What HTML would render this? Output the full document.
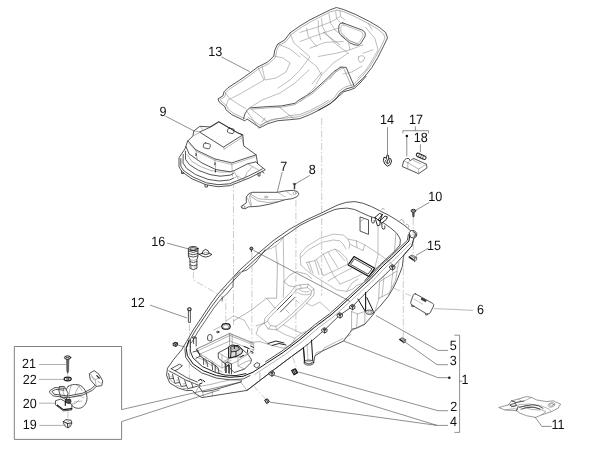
<!DOCTYPE html>
<html><head><meta charset="utf-8">
<style>
html,body{margin:0;padding:0;background:#fff;}
body{width:602px;height:454px;overflow:hidden;}
svg{display:block;}
text{font-family:"Liberation Sans",sans-serif;font-size:13.4px;fill:#111;text-rendering:geometricPrecision;}
.o{fill:none;stroke:#2a2a2a;stroke-width:.8;stroke-linejoin:round;stroke-linecap:round;}
.w{fill:#fff;stroke:#2a2a2a;stroke-width:.8;stroke-linejoin:round;stroke-linecap:round;}
.k{fill:none;stroke:#111;stroke-width:1.5;stroke-linejoin:round;stroke-linecap:round;}
.d{fill:none;stroke:#777;stroke-width:.55;stroke-linejoin:round;stroke-linecap:round;}
.l{fill:none;stroke:#888;stroke-width:.55;stroke-linejoin:round;stroke-linecap:round;}
.ld{fill:none;stroke:#444;stroke-width:.6;}
.ax{fill:none;stroke:#999;stroke-width:.5;stroke-dasharray:7 2 1.5 2;}
</style></head><body>
<svg width="602" height="454" viewBox="0 0 602 454">
<rect width="602" height="454" fill="#fff"/>


<!-- PART 13 -->
<g id="p13">
<path class="w" d="M336.8 7.6L343.8 9.6L355.8 14.6L369.7 21.6L379.7 27.6L385.7 32.6L387.5 37.9L383.7 45.8L377.7 57.8L371.7 67.8L363.7 77.7L353.8 86.7L346 89L340 93L336 99L330 103.8L321.6 108.8L309.7 114.7L299.7 118.7L289.7 119.7L277.8 120.7L267.8 123.7L259.8 127.7L246.9 118.9L244.9 120.9L242.9 119.9L231.9 114.7L226 109.8L225 106.8L219 101.8L218 98.8L223 95.8L224 91.8L227.9 87.8L239.9 80L249.9 73L257.8 67L261.8 65L267.8 62L273.8 56L274.8 50L277.8 44L284.7 40L290 32.9L300 25.9L309.9 19.9L319.9 14.9L329.9 10Z"/>
<path class="d" d="M336.8 10.2L343.5 11.6L355 16.6L368.5 23.6L378.2 29.4L383.6 34L385 38L381.5 45.5L375.7 57L369.7 67L362 76.3L352.8 84.8L345 87L338.5 91.5L334.5 97.5L329 102L320.8 106.9L309 112.8L299.3 116.7L289.5 117.7L277.4 118.7L267.2 121.7L260 125.3L248 117.2"/>
<path class="d" d="M244.9 118.7L233 113L227.8 108.6L226.8 105.8L221 101L220.2 99.4L224.8 96.8L225.8 92.8L229 89.4L241 81.6L251 74.6L258.8 68.7L262.8 66.7L269 63.6L275.6 57L276.6 50.6L279.2 45.4L286 41.4L291.4 34.4L301 27.6L310.9 21.6L320.8 16.6L330.6 11.8L336.8 10.2"/>
<!-- floor flap -->
<path class="o" d="M243.6 118.5L244.9 113.9L246.9 110.6L249.6 107.9L268.2 106.6L281.4 105.9L295 103.3L298.3 100.5L311.6 92.5L324.9 80.6L334.2 71.3L340.8 67.3L346.1 67.3L354.1 85.9"/>
<path class="d" d="M250.4 109.2L268.2 107.9L281.4 107.2L295 104.7L299 101.8L312.2 93.8L325.4 82L334.8 72.6L341 68.8L343.5 67.9L351.4 85.9"/>
<path class="d" d="M246.9 111.2L258.9 128.5M252.2 109.9L268.2 122.5M278.8 106.6L293.4 118.5M262 122L265 118"/>
<path class="d" d="M259.6 126.4L265 122.6L271.4 119.5L281.6 118.2L289.6 115.6L299.6 114.6L309.4 110.8L320.6 105L328.6 100.2"/>
<path class="o" d="M318.2 110.2L329.4 104.2L338.8 96.2L344 91.6L349.2 90.2L354.6 88.2L360 83L366 76.4"/>
<!-- window -->
<path class="o" d="M342.8 22.9L361.8 29.9Q366.5 32 365 36.5L360.8 43.5Q359 46 355 45L349.8 42.9L341 35.5Q338.5 33 338.6 29.5L339 25.5Q339.8 22.3 342.8 22.9Z"/>
<path class="l" d="M344 25L360.8 31.4Q364 33 363 36L359.5 42Q358 44 355.5 43.2L350.5 41.2L342.6 34.5Q340.6 32.5 340.7 30L341 26.8Q341.8 24.4 344 25Z"/>
<!-- interior contours -->
<path class="l" d="M339.9 10.8L340.7 16.6L344.9 19.9M335.7 11.6L336.5 18.3L339.9 22.4M329 14.1L330.7 23.3L335.7 30.7L348.2 39.9L349.8 49.8M321.6 18.3L322.4 26.6L326.6 34.1L335.7 44L348.2 53.2M318.3 20.8L318.3 29.9L320.8 39.9M306.6 28.2L308.3 36.5L316.6 46.5"/>
<path class="l" d="M300 32.4L316.6 27.4L331.6 21.6L339.9 16.6M300 41.5L313.3 36.5L324.9 32.4L338.2 28.2M310 48.2L324.9 42.4L343.2 41.5M318.3 56.5L336.5 53.2L349.8 49.8L363.1 44.9M290 33L294 43L302 50L310 57L300 70L290 80L278 88"/>
<path class="d" d="M323.3 32.4L339.9 44.9M349.8 40.7L359.8 44.9"/>
<path class="l" d="M365.6 27.4L374.8 38.2L378.1 49.8L371.4 61.5M363.1 53.2L373.1 49.8M358.5 57Q362 54 365 57.5Q364 62 360 62.5Q357.5 60 358.5 57ZM371.4 61.5L366 70L358 78M368.5 23.6L372 30"/>
<path class="l" d="M300 53.2L316.6 66.4L321.6 75L316 84M321.6 75L333.2 63.1L348.2 53.2M330 79L339.9 66.4L346.5 68.1M312 84L322 72M343 74L352 72L362 66"/>
<path class="l" d="M278 44L290 49L300 57M274 56L283 58L290 63L286 72L276 78L265 80L262 66M257.8 67L262 76L264 80L240 94L228 100L226 106M225 92L229 98L238 104L246 109M309 70L295 83L280 93L262 100L249.6 107.9M300 101.8L316 86"/>
</g>

<!-- PART 9 -->
<g id="p9">
<!-- base flange -->
<path class="w" d="M184.9 148.9L179 157.8L179 166.8L182 171.8L191.9 178.8L205.9 184.7L217.8 186.7L229.8 185.7L239.8 181.8L249.7 177.8L259.7 172.8L265.3 169.8L257.7 163.8L256.1 154.8L243.7 145.9L242.8 134.9L237.8 132.9L218.8 121.6L209.9 126.9L199.9 126.3L193.9 130.9L192.9 135.9L187.9 140.9Z"/>
<path class="o" d="M180.8 158.6L180.8 166.2L183.8 170.8L193 177L206.4 182.8L218 184.7L229.5 183.8L239 180L248.5 176L257.5 171.5L262.4 168.8"/>
<path class="o" d="M183.2 154.4L183 163L186.6 168.4L195.6 174.6L208 179.4L219 181L229.4 180L233.4 178.2"/>
<path class="o" d="M185.4 151.2L185.6 159.4L189.6 164.8L198.6 170.4L210 174.6L220 176.2L230 175.2L233.5 173.4"/>
<path class="d" d="M187.6 155L192 161.6L200.6 166.6L211 170.6L221 172.2L230 171.8"/>
<!-- box body -->
<path class="o" d="M187.9 140.9L195.9 149.9L214.8 158.9L231.8 162.9L256.1 154.8"/>
<path class="o" d="M186 146.6L189 153.8L202 163L216 169.6L230 171.8L233.8 170.8L247.6 163.8L256.1 161.8L257.7 163.8"/>
<path class="d" d="M195.9 149.9L197 158.8M214.8 158.9L215.5 169.2M231.8 162.9L232.4 176M233.8 170.8L239.8 181.8M247.6 163.8L252.6 166.6L247 172.6L243.6 180.2M252.6 166.6L259.6 170.6"/>
<path class="l" d="M189 143.5L196.5 151.5L215 160.5L231.8 164.6L255 156.8M233.4 178.2L238 176L243.6 180.2"/>
<path class="k" style="stroke-width:.9" d="M196 153.6V155.6M215 162.8V164.8M215.4 170V172"/>
<!-- lid -->
<path class="o" d="M199.9 131.9L210.9 126.9L218.8 122L237.8 132.9L242.8 134.9L234.8 139.9L223.8 146.9Z"/>
<path class="d" d="M223.8 146.9L224 149.2L234.8 142.2L242 137.6"/>
<path class="d" d="M242.8 134.9L242 137.6L243.7 145.9M193.9 130.9L199.9 131.9M192.9 135.9L199 133M199.9 126.3L203 129.6"/>
<rect class="o" style="stroke-width:.7" x="227.6" y="128.4" width="6.4" height="4.8" rx="1.4" transform="rotate(14 230.8 130.9)"/>
<rect class="o" style="stroke-width:.7" x="203.4" y="143.4" width="6.8" height="5" rx="1.4" transform="rotate(14 206.9 145.9)"/>
<!-- tabs -->
<path class="o" d="M181.5 171V173.5H183.5V172.5M205 184.5V187H207.5V185.5M258 173V176H260V172.5M262 171.5L264 173"/>
</g>

<!-- PART 7 -->
<g id="p7">
<path class="w" d="M241.4 206.2L246.3 202.9L246.3 196.9L249 193.6L252.3 192.3L277.5 192.3L285.5 190.9L293.5 190.3L297.5 191.6L298.8 194.3L296.8 196.9L292.1 198.7L285.5 199.6L278.9 201.6L269.6 204.2L258.9 206.2L248.3 206.9L245 208.9L242.3 208.2Z"/>
<path class="d" d="M249 193.6L258.9 198.9L269.6 199.6L285.5 199.6M250 196L258 201L268 202.5L278.9 201.6M247.5 198L251 206.5M252.3 192.3L249.5 196.5L251.5 205"/>
<path class="l" d="M277.5 192.3L285.5 197M285.5 190.9L292 195.5"/>
<circle class="d" cx="243.6" cy="206.9" r="1.4"/>
<circle class="d" cx="294.6" cy="193.2" r="1.5"/>
<ellipse class="d" cx="266" cy="197" rx="1.6" ry=".9"/>
<!-- screw 8 -->
<path d="M293.1 183.4H295.9L294.9 185.4V188.6L294.5 189.4L294.1 188.6V185.4Z" fill="#333" stroke="#222" stroke-width=".5"/>
</g>

<!-- MAIN BODY -->
<g id="body">
<!-- silhouette -->
<path class="w" d="M166.6 374.8L167.5 368.2L173.3 359.9L181.6 349.9L186.6 341.6L193.2 330L199.9 320L209.8 305L217.3 294.7L227.3 283.5L240 269.8L256.6 254.8L273.2 240.7L289.8 229.1L306.4 219.9L323.1 212.2L330 208.7L338.3 204.8L346.6 202.3L354.9 201.6L363.2 203.3L371.5 206.6L379.8 210.8L388.1 214.9L396.4 219.9L404.8 225.7L410.6 230.7L415.5 233.2L416.4 235.7L413.9 238.2L411.8 246L403.9 254.9L403.1 260L402.3 266.6L399.8 273.3L396.4 281.6L393.1 288.2L388.1 296.5L379.8 306.5L374.9 311.5L373.6 314L365 324L356.6 328L352 329.2L350 332.5L343.6 341L322.4 351L314.9 356L313.6 362.6Q309 365.4 304.4 362.6L303.6 348L291.5 356.5L274.9 369L260 380.4L247 390.4L201.8 397.6L195 393.4L192.4 390.4L186.6 390.6L178.3 388.1L170 383.1Z"/>

<!-- lower body (right) details -->
<path class="d" d="M379.8 281.6L397.3 270.8L395.6 279.9L389 293.2L379 298.2Z"/>
<path class="d" d="M365.7 292.4V309.8M364.9 311.5V324L356.6 328M357.4 314L356.6 328M351.6 311.5V329M351.6 311.5L357.4 314L364.9 311.5"/>
<path class="k" style="stroke-width:1" d="M357.9 299L365.2 311.2M365.6 292.4L365.6 310.6M366.8 297.6L373 310.4"/>
<ellipse class="o" cx="369.6" cy="312.2" rx="4" ry="2.2"/>
<ellipse class="d" cx="369.6" cy="312.2" rx="2" ry="1.1"/>
<path class="l" d="M399 262L397 270M393 271L391 288M384 277L382 297M374.9 311.5L379 298.2M350 332.5L353 330L364 325"/>
<path class="d" d="M343.6 341L345.5 337.5L351 334.5M322.4 351L324 348L343 338.5M314.9 356L316.5 352.5L322.4 351"/>
<!-- post -->
<path class="k" style="stroke-width:1" d="M303.4 347.4L304.8 362.3M311.5 340.2L312.8 360.7"/>
<path class="l" d="M307 344L308 360"/>
<ellipse class="o" cx="308.9" cy="362.6" rx="4.8" ry="2.5"/>
<ellipse class="d" cx="308.9" cy="362.6" rx="2.6" ry="1.3"/>

<!-- rim: right side bands -->
<path class="o" d="M413.9 238.2L411.8 246L403.9 254.9L394.9 264.9L384.9 274.9L369.9 288.9L357.9 300.9L352.4 306.5L339.9 315L324.4 330L308.1 344.1L291.5 356.5L274.9 369L260 380.4L247 390.4"/>
<path class="k" style="stroke-width:1" d="M409.9 235L408.9 241L401.9 248L392.9 256.9L382.9 265.9L370.7 278.9L364.9 284L349.9 297.9L340 306.9L331 315L316.4 325.8L299.8 339.9L283.2 352.4L266.6 363.2L253 372.2L243.1 376.3L229.8 377.3L216.5 375.6L203.2 370.7L193.2 364L187.4 355.7L186.2 348.2L189 340"/>
<path class="o" d="M408.4 234.4L407.4 240.2L400.6 246.8L391.6 255.6L381.6 264.6L369.4 277.6L363.6 282.7L348.6 296.6L338.7 305.6L329.7 313.7L315.2 324.4L298.6 338.5L282 351L265.4 361.8"/>
<path class="o" d="M250 375.6L243.1 379L229.8 379.8L216.5 378.1L201.5 372.8L191.6 365.7L185.7 357.4L184.9 349"/>
<path class="d" d="M410.8 243.1L403.8 250.1L394.8 259.0L384.8 268.0L372.6 281.0L366.8 286.1L351.8 300.0L341.9 309.0L332.9 317.1L318.3 327.9L301.7 342.0L285.1 354.5L268.5 365.3L254.9 374.3"/>
<!-- rim: back & left inner -->
<path class="o" d="M202.4 320L195.7 330L189 341.6L186.6 347.4"/>
<path class="o" d="M202.4 320L211.6 306.5L219.5 296.2L229.4 285L242 271.6L258 257L274.4 243L290 232.4L300 225.4L309.9 220.4L319.9 216L329.9 211.5L334.9 209.5L339.9 208.6L347.3 208.1L354.6 209.5L361.9 212.8L369.2 216.1L374 217.8"/>
<path class="o" d="M383.3 222.8L390.6 227.9L396.5 233L399.4 237.4L400.4 240L399.9 245L394.9 251L387.9 257.4L379.9 264.9L370 274.9L364.9 280.5"/>
<!-- lug on right end -->
<path class="w" style="stroke-width:.9" d="M409.4 232.4L411.4 230.4L414.6 230.8L416.8 233.4L416.4 236.4L413.9 238.2L411 237.4Z"/>
<path class="k" style="stroke-width:1" d="M413.4 231.6L415.4 233.8L414.8 236.6"/>
<!-- bumps on rim -->
<path class="d" d="M381.6 209.8L382.6 208.2L384.4 209.2M399.8 221L401.2 219.4L403.4 220.6L404 223M405.4 225.4L406.6 224L408.4 225.2L408.8 227.6"/>

<!-- inner back wall -->
<path class="d" d="M395.8 233.6L394.6 251"/>
<path class="o" d="M360.4 217.1L368.5 219.9L368.5 234.4L360.4 231.2Z"/>
<path class="d" d="M360.4 221.5L364.5 218.5"/>
<!-- hook bracket -->
<path class="w" style="stroke-width:.9;stroke:#111" d="M375 217.4L379.5 213.5L382.4 214.5L378 219.9Z"/>
<path class="w" style="stroke-width:.9;stroke:#111" d="M380 220.9L384.9 216L387.4 216.9L386.4 219.4L381.9 222.9Z"/>
<path class="w" style="stroke-width:.9;stroke:#111" d="M375 217.4L375.6 219.6L377.5 225.9L380 224.9L380 220.9L378 219.9Z"/>
<path class="k" style="stroke-width:.9" d="M382.4 214.5L380 220.9M378 219.9L380 220.9"/>
<path class="o" style="stroke-width:.9" d="M381.9 222.9V227.6Q382.6 230 384.4 229Q385.4 228 384.8 226"/>
<path class="o" style="stroke-width:.9" d="M371.6 217.4V221.6Q372.2 223.8 373.8 223Q374.8 222 374.2 220.4"/>
<path class="l" d="M378 226V255L374.7 268.2"/>
<!-- battery hatch -->
<path class="k" style="stroke-width:1.2" d="M354 256.6L374.7 268.2L368.9 276.5L348.1 264.9Z"/>
<path class="o" d="M354.8 259L372 268.8L368 274.2L350.8 264.6Z"/>

<!-- seat tub contours -->
<path class="l" d="M300.8 264.9L300 254.1L306.6 246.6L319.9 238.3L333.2 234.1L343.2 235L348.1 239.1L349.8 244.1L349 248.3"/>
<path class="l" d="M300.8 257.4L308.3 249.9L321.6 242.4L333.2 240L339.8 240.8L343.2 244.1L346 249"/>
<path class="l" d="M348.1 239.1L356.4 240.8L364.8 244.9L376.4 252.4L384.7 258.2L392 264M349.8 244.1L356.4 247.4L363 250.5M356.4 240.8L357 247.4M364.8 244.9L363 250.5"/>
<path class="l" d="M300.8 264.9L309.9 273.2L323.2 281.5L336.5 289.8L346.5 291.4L353.1 289L356.4 285.6L366.4 281.5L373 274.8"/>
<path class="l" d="M306.6 262.4L314.9 260.7L323.2 254.1L334.9 249.1L339.8 251.6L346.5 258.2L348.1 264.9"/>
<path class="l" d="M306.6 262.4L310.8 272.3M309 261.5L313 273.6M314.9 260.7L319 274.5M316.6 259.6L323.2 275.7M323.2 254.1L333.2 274.8L340 284M334.9 249.1L344.8 260.7M328 252L338 268"/>
<path class="l" d="M323.2 275.7L336.5 269.9L348.1 264M328 281L340 274L352 268M340 284L350 280L362 274M346.5 291.4L352 283L358 279"/>
<path class="l" d="M283.2 237.4L284 281.6M275.7 245.7L277.4 265M265 250Q272 249 276 245.7Q281 242 283.2 237.4"/>


<!-- centre tunnel -->
<path class="d" d="M299.8 284.9L308.1 284.1L314 289.1L314 294.9L306.5 303.2L294.9 314.8L283.2 324.8L276.6 329.8L268.3 329L264.1 323.1L265 318.2L274.9 308.2L289.9 293.2L294.9 286.6Z"/>
<path class="d" d="M301.5 288.3L307.5 287.6L311.4 291L311 295L304.5 302L293 313L281.5 322.6L276 326.4L270.6 325.6L267.6 321.4L268.6 318.4L277.4 309.6L291.6 295.4L296.5 289.6Z"/>
<path class="l" d="M299.8 284.9L301.5 288.3M308.1 284.1L307.5 287.6M314 289.1L311.4 291M276.6 329.8L276 326.4M268.3 329L270.6 325.6M264.1 323.1L267.6 321.4M296 300L299 303M286 310L289 313M299 289.5Q303 293 309 291.5M297.5 292.5Q303 296.5 310.4 294"/>
<path class="o" d="M291.6 295.4L277.4 309.6M294.6 297.6L280.4 312"/>
<path class="d" d="M251.7 309.9L266.6 298.2L276.6 298.2L277.4 265M283.2 297.4L284 281.6L289.9 275L296.5 271.6L306.5 274.1L311.5 278.3M266.6 298.2L270 302L274.9 308.2M251.7 309.9L233.5 321M256 326L264.1 323.1M284 281.6L289 286L294.9 286.6"/>
<path class="d" d="M250 342.4L260 341.6L269.9 344.9L283.2 348.2L291.5 344.9L294.9 338.3L301.5 333.3L313.1 328.3L323.1 321.6L329.7 315"/>
<path class="l" d="M276.6 329.8L284 334L294.9 338.3M283.2 324.8L290 328L301.5 333.3M264.1 323.1L258 328L256 334L269.9 344.9M306.5 303.2L312 306L320 302L329.7 311"/>
<path class="k" style="stroke-width:.9" d="M268 343.5L276 341L284 343M272 345.5L279 343.5L286 345"/>

<!-- front tray -->
<path class="d" d="M197.4 348.6L229.8 333.6L253.4 343.6L254 350L236 362L222 368L197.4 352Z"/>
<path class="d" d="M229.8 333.6V341L253.4 350M229.8 341L200 354M222 368V362L236 356M197.4 348.6L197.4 352"/>
<path class="l" d="M221 290L224.8 290M226 321L233.5 316L244 320L250 330M213.6 330L222 326"/>
<ellipse class="k" style="stroke-width:1.1" cx="226" cy="326.4" rx="4.2" ry="2.8"/>
<ellipse class="d" cx="226" cy="326.8" rx="3" ry="1.9"/>
<ellipse class="k" style="stroke-width:.8" cx="217.8" cy="332" rx="1.2" ry=".8"/>
<path class="o" d="M207.6 336.6Q207.8 334.4 210 334.4Q212.2 334.6 212.2 337L211.6 340.4Q209.8 341.6 208 340.2Z"/>
<!-- ECU block -->
<path class="o" d="M218.6 352.7L228.6 347.4L238.5 345.8L248 354.4L251.5 359.6L250.6 363L244.5 369.1L234.2 372.5L228 366.2L218.6 358.4Z"/>
<path class="d" d="M218.6 352.7L228 358.6L240 356.4L248 354.4M228 358.6V366.2M222 355V361.4M224.7 362.2L231 360.6M224.7 362.2V370.8M238 357V366L244.5 369.1M251.5 359.6L244 362.6L238 366"/>
<path d="M228.6 346.8L232 345L238.5 345.8L242.8 350.6L241.6 353.6L235.9 356.6L228.6 357.9Z" fill="#ddd" stroke="#111" stroke-width="1"/>
<path d="M230.6 347.2L234 345.8L238 346.6L239.6 349.4L236 351.4L231 351.8Z" fill="#bbb" stroke="#111" stroke-width=".8"/>
<path class="k" style="stroke-width:.9" d="M231 351.8L230.6 356.8M236 351.4L235.9 356.6M234.4 346V348.6"/>
<path class="k" style="stroke-width:.9" d="M240 357.4L243.6 355.4M250.6 351.2L253.2 352.4L252 353.6"/>
<!-- brackets around tray -->
<path class="o" d="M193.6 343.6V338.4L196.2 337.6V346M196.2 337.6L194.4 336.6L192 337.6L193.6 338.4"/>
<path class="o" d="M226.4 366.4V372.6M229.6 365.6V373.4M226.4 366.4L228 365.4L229.6 365.6"/>
<path class="d" d="M196 357L204 360L212 366M200 354L206 362M206 357V364M212 361L216 368L222 372"/>
<path class="o" d="M254.6 364.2L257 362.6L259.8 363.8L259 366.8L256.4 367.8L254.4 366.4Z"/>
<!-- front nose -->
<path class="o" d="M169 370.9L176.4 374.7L185.4 379.9L194.4 383.6L200.4 385.9"/>
<path class="o" d="M171.2 368.7L177.9 372.4L186.9 377.7L197.4 382.1"/>
<path class="o" d="M171.2 368.7L179.4 364.2L182.4 365.7L177.9 369.4L175 370.6"/>
<path class="o" d="M168.6 373.6L169.6 379L173.4 378.2L172.6 374.4M173.4 378.2L175 383.4L179.6 382.4L178.2 377.2M179.6 382.4L181.4 386.6L186.4 385.6L184.8 380.6M186.4 385.6L188 388.6L193 387.4L191.6 383.2M193 387.4L197.4 386.2"/>
<path class="d" d="M170.6 380.6L175 383.4M176.6 385.6L181.4 386.6M183 388.4L188 388.6M171 376.4L172.8 376M176.6 380.2L178.8 379.8M183 384L185.4 383.4"/>
<path class="k" style="stroke-width:1" d="M198.6 380.4L201 379.2L202 381M203 380.2L204.8 381.8M199.4 384.2L202 383"/>
<path class="o" d="M198.9 386.6L202.6 391.9L212.3 390.4L240.7 382.1L241.5 380.6"/>
<path class="d" d="M198.9 386.6L210.8 384.4L219.8 382.1L230.3 379.9L241.5 380.6M202.6 391.9L203.4 397.4M212.3 390.4V396.3M194.4 394.4L198.9 386.6M240.7 382.1L247 390.4M259.9 372.6V380.6M186.6 390.6L188 388.6"/>
<!-- clips along rim -->
<g>
<path class="w" style="stroke:#111;stroke-width:.8" d="M389.8 266.3L392.2 264.5L395.0 266.1L394.8 268.5L392.6 269.9L390.0 268.3Z"/><path d="M390.8 266.5L392.4 265.4L394.0 266.5L392.4 267.8Z" fill="#444" stroke="#111" stroke-width=".5"/><path class="k" style="stroke-width:.8" d="M392.6 267.8V269.9"/>
<path class="w" style="stroke:#111;stroke-width:.8" d="M349.8 306.1L352.2 304.3L355.0 305.9L354.8 308.3L352.6 309.7L350.0 308.1Z"/><path d="M350.8 306.3L352.4 305.2L354.0 306.3L352.4 307.6Z" fill="#444" stroke="#111" stroke-width=".5"/><path class="k" style="stroke-width:.8" d="M352.6 307.6V309.7"/>
<path class="w" style="stroke:#111;stroke-width:.8" d="M337.3 314.4L339.7 312.6L342.5 314.2L342.3 316.6L340.1 318.0L337.5 316.4Z"/><path d="M338.3 314.6L339.9 313.5L341.5 314.6L339.9 315.9Z" fill="#444" stroke="#111" stroke-width=".5"/><path class="k" style="stroke-width:.8" d="M340.1 315.9V318.0"/>
<path class="w" style="stroke:#111;stroke-width:.8" d="M321.9 329.4L324.3 327.6L327.1 329.2L326.9 331.6L324.7 333.0L322.1 331.4Z"/><path d="M322.9 329.6L324.5 328.5L326.1 329.6L324.5 330.9Z" fill="#444" stroke="#111" stroke-width=".5"/><path class="k" style="stroke-width:.8" d="M324.7 330.9V333.0"/>
<path class="w" style="stroke:#111;stroke-width:.8" d="M269.2 372.6L271.6 370.8L274.4 372.4L274.2 374.8L272.0 376.2L269.4 374.6Z"/><path d="M270.2 372.8L271.8 371.7L273.4 372.8L271.8 374.1Z" fill="#444" stroke="#111" stroke-width=".5"/><path class="k" style="stroke-width:.8" d="M272.0 374.1V376.2"/>
</g>
<!-- inner flap left -->
<path class="o" style="stroke-width:.7" d="M222.2 297.9L226.9 293.9L232.9 286.6L233.5 278L240 271.8M222.2 297.9V301M242 271.6L247 270L256 262L265 250"/>
<path class="o" style="stroke-width:.7" d="M191.6 342.6L198.4 331L205.4 320.6L213.8 308.2L218.4 302.4L222.2 297.9"/>
<!-- second heavy arc -->
<path class="o" style="stroke-width:1" d="M190.3 340L190.3 351.2L193 357.9L202.3 366.5L215.6 372.5L224.9 375.1L236 375.6L246 373.6"/>
<!-- ribs -->
<path class="o" d="M193 352L198 350.6L200 356L196 358.4M200 356L206.6 360.6L207.8 366.6M203.6 358.4V364.4M207.8 360.6L212 363.2L212.6 369.6M212 363.2L218 367.6L219 373.2M215.2 365.4V371.6M196.3 349.2L199.6 354.6"/>
<path class="o" d="M225.5 363.2L227.4 362.2L231.5 364V373.8M225.5 363.2V372.6M228.6 364.4V373"/>
<path class="d" d="M196.3 349.2L229.5 333.3L254.1 343.2M198.3 350.6L230 335.4L252 344.4M229.5 333.3V346.6M232.2 334.6V346.6"/>
<path class="k" style="stroke-width:.9" d="M244 346.4L249 348.6M250.6 346L253.6 347.4M247.6 349.8V352.4"/>
</g>

<!-- AXIS LINES -->
<g id="axes" class="ax">
<path d="M233.5 181V325"/>
<path d="M251.9 253V345"/>
<path d="M295.9 200V335"/>
<path d="M321.7 118V296"/>
<path d="M193.4 271.5V279.8L225.8 299V323"/>
<path d="M189.4 324V382"/>
<path d="M413.2 218V255"/>
<path d="M403.3 256V338"/>
<path d="M394 288.2L411 296"/>
<path d="M253.3 385.6L265.9 399.5"/>
<path d="M292.5 357L297 369"/>
</g>
<!-- SMALL PARTS -->
<g id="small">
<!-- 17 box -->
<path class="w" d="M402.6 165L403.7 160.9L406.6 158.4L409 158.6L410.1 160.7L413.6 158.4L426.4 164.2L427 167.9L418.6 173.7L402.6 166.7Z"/>
<path class="d" d="M403.7 160.9L407.8 162.7L410.1 160.7M407.8 162.7V168.9M407.8 162.7L418.6 169.1L426.4 164.2M418.6 169.1V173.7M413.6 158.4V160.5L421 164"/>
<!-- 18 pill -->
<rect class="o" style="stroke-width:1;stroke:#222" x="416" y="154.6" width="10.4" height="3.4" rx="1.7" transform="rotate(24 421.2 156.3)"/>
<path class="o" style="stroke-width:.7" d="M419.4 154.4L418.2 157M421.4 155.3L420.2 157.9M423.4 156.2L422.2 158.8"/>
<!-- 14 clip -->
<path class="w" style="stroke-width:.9;stroke:#111" d="M387 155.2L386.4 158L384 157.2L383.4 160.5L384.8 164L387.4 166.2L390.4 164.6L391.5 161L390.6 158.6L388.8 159L388.6 155.8Z"/>
<path class="o" style="stroke-width:.8" d="M385.6 160.4L386.4 163L387.8 163.8L389.4 162.6L389.6 160.6M386.4 158L387.6 160.8L388.8 159M387.6 160.8V163.6"/>
<!-- 10 screw -->
<ellipse class="w" style="stroke-width:.9;stroke:#111" cx="413.4" cy="210.8" rx="2.3" ry="1.5"/>
<path class="k" style="stroke-width:.7" d="M412.2 210.6L414.6 211"/>
<path d="M412.5 212.3H414.3L414.1 216.2L413.4 217.4L412.7 216.2Z" fill="#555" stroke="#222" stroke-width=".5"/>
<!-- 15 clip -->
<path class="w" style="stroke-width:.7;stroke:#333" d="M409.25 256.5L412 255L416.5 257.25L416.75 259.75L414.5 261.6L413 260L409.25 257.75Z"/>
<path class="k" style="stroke-width:1.3" d="M409.4 257L413.2 259.6"/>
<path class="o" style="stroke-width:.7" d="M411.5 256L414.8 258L416.5 257.25M414.8 258L414.5 261.6"/>
<!-- 16 plug -->
<path class="w" style="stroke:#111" d="M188.4 248.6V256.4L190 259.6V268.4Q193.3 270.8 196.9 268.4V259.6L197.9 256.4V248.6"/>
<ellipse class="w" style="stroke:#111;stroke-width:.9" cx="193.15" cy="248.6" rx="4.75" ry="2"/>
<ellipse class="o" cx="193.15" cy="248.9" rx="3.3" ry="1.2"/>
<path class="o" d="M188.4 251.2Q193.1 253.8 197.9 251.2M188.4 253.6Q193.1 256.2 197.9 253.6M188.6 256Q193.1 258.4 197.7 256M190 261.6Q193.4 263.6 196.9 261.6M190 264.9Q193.4 266.9 196.9 264.9"/>
<path class="d" d="M190 259.6Q193.4 261.4 196.9 259.6M191.6 266V268.6M195 266V268.6"/>
<!-- 16 cap -->
<path class="w" style="stroke:#111" d="M199.4 254.4Q205.6 250.4 211.9 254.4Q205.6 259.8 199.4 254.4Z"/>
<path class="w" style="stroke:#111" d="M202 253.6Q202.4 250 205.6 249.4Q208.8 250 209.2 253.6Q205.6 255.6 202 253.6Z"/>
<path class="d" d="M203.6 252.8Q205.6 251.6 207.6 252.8"/>
<path class="o" d="M197.9 253.6L199.4 254.2"/>
<!-- 12 screw -->
<ellipse class="w" style="stroke-width:1.1;stroke:#111" cx="189.4" cy="309.2" rx="1.7" ry="1.5"/>
<path class="o" d="M188.4 310.3V322.4H190.4V310.3"/>
<!-- nut left of body -->
<path d="M173.2 343.4L175 342.2L177.6 343L177.6 345.2L175.8 346.4L173.2 345.6Z" fill="#bbb" stroke="#111" stroke-width=".9"/>
<path class="k" style="stroke-width:.7" d="M173.2 343.4L175.8 344.2L177.6 343M175.8 344.2V346.4"/>
<path class="ld" d="M178.2 345.1L185.5 347.3"/>
<!-- 5 screw -->
<circle cx="251.4" cy="248.6" r="1.5" fill="#999" stroke="#111" stroke-width=".9"/>
<path class="o" d="M251.4 249.7V252"/>
<!-- 6 cover -->
<path class="w" d="M415.3 293.7L432.6 303.3Q434.3 304.4 433.6 306L430.2 312.8Q429.3 314.2 427.6 313.9L426.6 313.9L411.6 304.8Q410.4 303.6 410.8 301.9L413.2 295.3Q414 293.3 415.3 293.7Z"/>
<path d="M421.8 298L426.2 300.4L425.6 301.8L421.2 299.4Z" fill="#555" stroke="#111" stroke-width=".7"/>
<path class="l" d="M414.2 299.2L422.6 304"/>
<path class="o" style="stroke-width:.7" d="M411.8 304.8V306.6H413.6L413.8 305.8M425.6 313.4V315H427.4L427.8 313.9"/>
<!-- 3 clip -->
<g transform="translate(-1.6 -.4)">
<path class="w" style="stroke-width:.7;stroke:#333" d="M401.4 339.4L403.8 338.2L407.2 340L407.4 342L405.4 343.4L404.2 342.2L401.4 340.5Z"/>
<path class="k" style="stroke-width:1.2" d="M401.6 339.9L404.6 342"/>
<path class="o" style="stroke-width:.7" d="M403.2 338.8L405.8 340.6L407.2 340M405.8 340.6L405.4 343.4"/>
</g>
<!-- 2 cylinder -->
<path class="k" style="stroke-width:1.1;fill:#bbb" d="M291.6 370.6L295.4 368.8L297.6 372.6L294 374.8Z"/>
<path class="k" style="stroke-width:.8" d="M293.2 370L295.4 374M294.6 369.3L296.8 373.2"/>
<!-- 4 lower nut -->
<path class="k" style="stroke-width:1;fill:#ccc" d="M265 400L267.4 398.8L269.4 401.6L267 403.4Z"/>
<path class="k" style="stroke-width:.7" d="M266.2 399.5L268.4 402.6"/>
<!-- 11 plate -->
<path class="w" style="stroke:#555;stroke-width:.6" d="M499.1 407.4L508.3 404.9L511.6 400.8L518.2 399.1L526.5 396.6L531.5 397.4L536.5 399.9L546.5 401.6L553.1 400.8L560.6 404.1L558.1 408.2L551.5 411.6L541.5 414.9L535.7 417.4L526.5 415.7L519.9 413.2L516.6 410.7L505 409.9Z"/>
<path class="d" d="M511.6 400.8L516 402.5L524 401L531.5 397.4M508.3 404.9L514 406.5L520 404.5L530 404L540 405.5L548 408.5L551.5 411.6M516.6 410.7L518 406.8L528 406L538 408.5L546 411.5L541.5 414.9M505 409.9L513 408.8L517 409M524 407L531 409.5L540 410M518.2 399.1L522 401.5"/>
<path class="o" style="stroke-width:.8" d="M510.5 404.6L515.5 403.2L516.5 405.4L512 406.6Z"/>
<path class="o" style="stroke-width:.8" d="M519.6 407.4L526 405.6L533 404.8L538.6 405.8L543 408.4M521 409.2L527 407.6L534 407.2L540 409"/>
<path class="o" style="stroke-width:.7" d="M511.6 400.8L516 402.5L524 401M516.6 410.7L518 406.8"/>
<ellipse class="d" cx="551.5" cy="404.9" rx="3.4" ry="2.2" transform="rotate(-15 551.5 404.9)"/>
<ellipse class="d" cx="551.5" cy="404.9" rx="2" ry="1.2" transform="rotate(-15 551.5 404.9)"/>
</g>
<!-- LEADERS -->
<g id="leaders" class="ld">
<path d="M221.4 56.9L249.8 71.7"/>
<path d="M165.4 116.1L194.3 131.1"/>
<path d="M282.2 172.1L277.2 192.4"/>
<path d="M309.9 175.4L295.4 183.9"/>
<path d="M429.4 202.4L415.3 210.5"/>
<path d="M428.5 248.1L416 255.4"/>
<path d="M167.1 243.1L188.4 248.9"/>
<path d="M150.1 305.1L187 318"/>
<path style="stroke:#888" d="M433.9 308.6Q452 309.2 472.9 310.4"/>
<path d="M253.4 250.3L350 301.4M376 315.6L438 350.4H447.9"/>
<path d="M405 342L437 364.7H447.9"/>
<path d="M343.6 341L438 377.7H449"/>
<path d="M298.5 372L438 410.7H447.9"/>
<path d="M272.6 374.9L437 425.4H447.9"/>
<path d="M269.9 402.2L437 425.4"/>
<path d="M535 417.1L541.9 426.4H551.7"/>
<path d="M454.4 335.2H459.6V432.4H454.4M459.6 381.2H462.4"/>
<path d="M387.5 127.1V154.5"/>
<path d="M420.4 144.4V152.2"/>
<path d="M415.4 126.4V130.7M402.9 133.4V130.7H428.6V133.4"/>
<path d="M406.8 136.1V156.3"/>
</g>
<circle cx="449.3" cy="377.7" r="1.25" fill="#111"/>
<circle cx="406.9" cy="136.1" r="1.25" fill="#111"/>

<!-- INSET BOX -->
<g id="inset">
<path d="M121.6 409.6V346.5H14.3V439.4H121.6V421.6" fill="none" stroke="#555" stroke-width=".75"/>
<path class="ld" d="M121.6 409.6L241.7 381.8M121.6 421.6L219.8 389.8"/>
<path class="ld" style="stroke:#777" d="M39.1 364.5H65.8M39.1 379.4H64.3M39.1 403.2H55.4M39.1 425.4H63.8"/>
<!-- 21 screw -->
<ellipse class="w" style="stroke-width:1;stroke:#111" cx="67.6" cy="357.6" rx="3.2" ry="1.7"/>
<path class="k" style="stroke-width:.7" d="M66 357.4L69.2 357.8"/>
<path d="M66.6 359.4H68.8L68.6 371L67.7 373.4L66.8 371Z" fill="#666" stroke="#222" stroke-width=".5"/>
<!-- 22 washer -->
<ellipse class="w" style="stroke-width:1.1;stroke:#111" cx="67.7" cy="379" rx="3.6" ry="1.9"/>
<ellipse class="o" style="stroke-width:.8" cx="67.7" cy="379" rx="1.3" ry=".7"/>
<!-- 20 horn -->
<path class="w" d="M68.1 386.5C71.5 384 77 383.8 80.6 385.6C84.6 387.8 86.8 392.5 87 397.5C87.2 402.6 84.6 406.8 80.3 408.1C77.8 408.7 75.4 408 73.7 407.1L66.2 399.6C64.8 394.5 65.2 389.6 68.1 386.5Z"/>
<path class="d" d="M71.5 385.2Q68 391.5 69.6 400.5M76 384.8Q80.5 386 82.2 390.6M80.3 385.6Q76.4 388 75.2 394.4"/>
<path class="l" d="M73 397L80 396L84 398M74 402L82 401"/>
<path class="w" d="M59.7 386.5L64.3 386.5L68.1 393.1L66.2 399.6L60.6 396.8L59 391Z"/>
<path class="d" d="M64.3 386.5L63 392L66.2 399.6"/>
<path class="w" d="M55.9 400.6L60.6 399.1L65.3 401.5L71.8 404.3V409.9L63.4 410.9L55.9 405.2Z"/>
<path class="k" style="stroke-width:1.1" d="M57.4 405.2L63.4 409.6L71.8 408.6M65.3 401.5V405.4"/>
<path d="M65.6 399.6L70.6 399.6L71 402.2L68.2 403.4L65.4 402.2Z" fill="#555" stroke="#111" stroke-width=".8"/>
<path class="d" d="M71.8 404.3L76 403L79 400"/>
<!-- wire -->
<path class="o" d="M64.3 388.4L55 387.5L50.3 390.3L49.4 392.1L53.1 395.9L68.1 397.8L83.1 394.9L92.4 390.3L96.2 386.5"/>
<path class="o" d="M64 390.2L55.6 389.4L52 391.4L54 394.2L68.1 396L82.6 393.2L91.4 388.8L94.6 385.6"/>
<!-- connector -->
<path class="w" d="M89.6 373.4L94.3 370.6L99 374.3L102.7 380.9L101.8 385.6L96.2 386.5L90.6 380Z"/>
<path class="d" d="M89.6 373.4L95.2 379.6L96.2 386.5M95.2 379.6L100.6 377.2M94.3 370.6L96 372.5"/>
<path class="k" style="stroke-width:1.1" d="M96.8 375.6L99.2 378.2"/>
<path class="d" d="M92 377L94 380M98 381.5L100.5 383"/>
<!-- 19 clip -->
<path class="w" d="M63.4 421.6L66 419.5L71 420.2L71.8 423L70.4 426.4L68 427.7L65.4 426.6L63.8 424Z"/>
<path class="k" style="stroke-width:.9" d="M63.4 421.6L67.4 423.4L71.8 423M67.4 423.4L68 427.7"/>
<path class="d" d="M66 419.5L67.6 421.4L71 420.2M65 422.4V425.8M69.6 423.4V426.8"/>
<path class="ax" d="M67.7 374V377M67.9 411V419"/>
</g>

<!-- LABELS -->
<g id="labels" style="opacity:.999">
<text transform="translate(208.2 55.9) scale(.94 1)">13</text>
<text transform="translate(159.6 115.7) scale(.94 1)">9</text>
<text transform="translate(280.3 171.4) scale(.94 1)">7</text>
<text transform="translate(308.7 173.9) scale(.94 1)">8</text>
<text transform="translate(380.1 123.9) scale(.94 1)">14</text>
<text transform="translate(409.0 123.9) scale(.94 1)">17</text>
<text transform="translate(413.8 142.4) scale(.94 1)">18</text>
<text transform="translate(428.2 201.1) scale(.94 1)">10</text>
<text transform="translate(427.1 249.7) scale(.94 1)">15</text>
<text transform="translate(151.2 245.7) scale(.94 1)">16</text>
<text transform="translate(130.7 306.7) scale(.94 1)">12</text>
<text transform="translate(476.9 313.9) scale(.94 1)">6</text>
<text transform="translate(449.8 350.4) scale(.94 1)">5</text>
<text transform="translate(449.8 364.9) scale(.94 1)">3</text>
<text transform="translate(461.5 383.9) scale(.94 1)">1</text>
<text transform="translate(450.2 410.9) scale(.94 1)">2</text>
<text transform="translate(449.9 425.9) scale(.94 1)">4</text>
<text transform="translate(551.5 429.4) scale(.94 1)">11</text>
<text transform="translate(21.9 368.4) scale(.94 1)">21</text>
<text transform="translate(22.7 383.7) scale(.94 1)">22</text>
<text transform="translate(22.7 407.9) scale(.94 1)">20</text>
<text transform="translate(22.7 429.4) scale(.94 1)">19</text>
</g>
</svg>
</body></html>
